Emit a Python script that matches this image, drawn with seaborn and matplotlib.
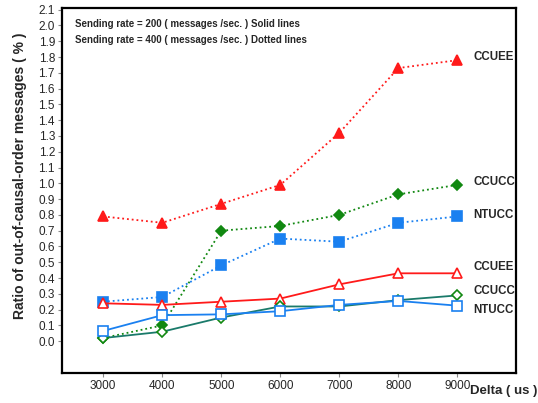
import matplotlib
matplotlib.use("Agg")
import matplotlib.pyplot as plt
import pandas as pd
import seaborn as sns

delta = [3000, 4000, 5000, 6000, 7000, 8000, 9000]

# rate 400 msg/sec (dotted)
ccuee_400 = [0.79, 0.75, 0.87, 0.99, 1.32, 1.73, 1.78]
ccucc_400 = [0.02, 0.10, 0.70, 0.73, 0.80, 0.93, 0.99]
ntucc_400 = [0.25, 0.28, 0.48, 0.65, 0.63, 0.75, 0.79]
# rate 200 msg/sec (solid)
ccuee_200 = [0.24, 0.23, 0.25, 0.27, 0.36, 0.43, 0.43]
ccucc_200 = [0.02, 0.06, 0.15, 0.22, 0.22, 0.26, 0.29]
ntucc_200 = [0.065, 0.165, 0.17, 0.19, 0.23, 0.255, 0.225]

sns.set_style("ticks")
plt.rcParams['font.family'] = ['Liberation Sans', 'DejaVu Sans']

red = '#ff1a1a'
green = '#118811'
teal = '#1a7a6a'
blue = '#1a80f0'

# (values, line colour, marker, marker face, marker size, linestyle)
series = [
    (ccuee_400, red, '^', red, 6.5, ':'),
    (ccucc_400, green, 'D', green, 5.5, ':'),
    (ntucc_400, blue, 's', blue, 7.5, ':'),
    (ccuee_200, red, '^', 'white', 6.5, '-'),
    (ccucc_200, teal, 'D', 'white', 5.5, '-'),
    (ntucc_200, blue, 's', 'white', 6.5, '-'),
]

fig, ax = plt.subplots(figsize=(5.38, 4.03), dpi=100)
fig.subplots_adjust(left=0.115, right=0.96, top=0.98, bottom=0.075)

for vals, col, mk, face, ms, ls in series:
    df = pd.DataFrame({'delta': delta, 'ratio': vals})
    edge = green if mk == 'D' else col
    sns.lineplot(data=df, x='delta', y='ratio', ax=ax, color=col, linestyle=ls,
                 linewidth=1.3, marker=mk, markersize=ms, markerfacecolor=face,
                 markeredgecolor=edge, markeredgewidth=1.2)

ax.set_xlim(2300, 10000)
ax.set_ylim(-0.2, 2.11)
ax.set_xticks(delta)
yt = [i / 10 for i in range(22)]
ax.set_yticks(yt)
ax.set_yticklabels([f"{v:.1f}" for v in yt])
ax.tick_params(labelsize=8.5, length=3, color='#888888', pad=2)
for s in ax.spines.values():
    s.set_linewidth(1.6)
    s.set_color('black')

ax.set_xlabel('')
ax.set_ylabel('Ratio of out-of-causal-order messages ( % )', fontsize=10,
              fontweight='bold')
ax.yaxis.set_label_coords(-0.077, 0.54)
fig.text(0.998, 0.03, 'Delta ( us )', fontsize=9.5, fontweight='bold',
         ha='right', va='center')

ax.text(0.028, 0.955, 'Sending rate = 200 ( messages /sec. ) Solid lines',
        transform=ax.transAxes, fontsize=7, fontweight='bold', va='center')
ax.text(0.028, 0.913, 'Sending rate = 400 ( messages /sec. ) Dotted lines',
        transform=ax.transAxes, fontsize=7, fontweight='bold', va='center')

labels = [('CCUEE', 1.80), ('CCUCC', 1.01), ('NTUCC', 0.80),
          ('CCUEE', 0.47), ('CCUCC', 0.32), ('NTUCC', 0.20)]
for txt, y in labels:
    ax.text(9270, y, txt, fontsize=8.3, fontweight='bold', va='center')

fig.savefig('out.png', dpi=100)
